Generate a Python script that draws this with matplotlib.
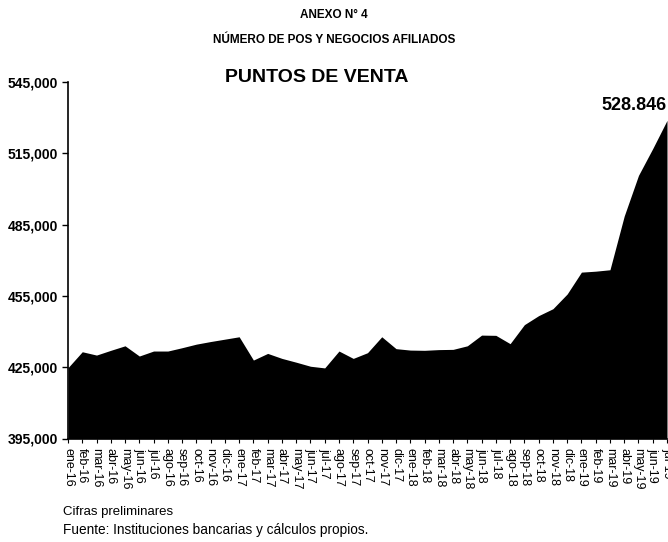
import matplotlib
matplotlib.use("Agg")
import matplotlib.pyplot as plt
from matplotlib.ticker import FixedLocator

plt.rcParams['font.family'] = ['Liberation Sans', 'DejaVu Sans']

months = ["ene", "feb", "mar", "abr", "may", "jun", "jul", "ago", "sep", "oct", "nov", "dic"]
labels = [f"{m}-{y}" for y in ["16", "17", "18"] for m in months] + [f"{m}-19" for m in months[:7]]

values = [
    424800, 431500, 430100, 432100, 434000, 429700, 431800, 431800, 433200, 434700, 435800, 436800,
    437800, 428000, 430800, 428700, 427100, 425400, 424700, 431800, 428700, 431100, 437800, 432800,
    432200, 432100, 432400, 432500, 434000, 438500, 438400, 434900, 442900, 446700, 449600, 455800,
    465000, 465400, 466000, 488600, 505700, 517000, 528846,
]

yticks = [395000, 425000, 455000, 485000, 515000, 545000]
ytick_labels = ["395,000", "425,000", "455,000", "485,000", "515,000", "545,000"]

W, H = 668, 542
fig = plt.figure(figsize=(W / 100, H / 100), dpi=100)
ax = fig.add_axes([68 / W, 1 - 438.5 / H, (667 - 68) / W, (438.5 - 82) / H])

x = list(range(len(values)))
ax.fill_between(x, values, 395000, color="black", linewidth=0)
ax.set_xlim(0, len(values) - 1)
ax.set_ylim(395000, 545000)

ax.yaxis.set_major_locator(FixedLocator(yticks))
ax.set_yticklabels(ytick_labels, fontsize=10, fontweight="bold")
ax.set_xticks(x)
ax.set_xticklabels(labels, rotation=-90, fontsize=9, va="top", ha="center")
ax.tick_params(axis="y", direction="out", length=4, width=1, pad=3)
ax.tick_params(axis="x", direction="out", length=3, width=0.8, pad=4)

for s in ["top", "right"]:
    ax.spines[s].set_visible(False)
ax.spines["left"].set_linewidth(1.2)
ax.spines["bottom"].set_linewidth(1.2)

fig.text(334 / W, 1 - 15 / H, "ANEXO N° 4", ha="center", va="center", fontsize=8.5, fontweight="bold")
fig.text(334 / W, 1 - 40 / H, "NÚMERO DE POS Y NEGOCIOS AFILIADOS", ha="center", va="center",
         fontsize=8.5, fontweight="bold")
fig.text(317 / W, 1 - 77 / H, "PUNTOS DE VENTA", ha="center", va="center", fontsize=14, fontweight="bold")

ax.annotate("528.846", xy=(x[-1], values[-1]), xytext=(667 / W, 1 - 105 / H), textcoords="figure fraction",
            ha="right", va="center", fontsize=13, fontweight="bold")

fig.text(63 / W, 1 - 512 / H, "Cifras preliminares", ha="left", va="center", fontsize=9.5)
fig.text(63 / W, 1 - 530 / H, "Fuente: Instituciones bancarias y cálculos propios.", ha="left", va="center",
         fontsize=9.8)

fig.savefig("out.png", dpi=100)
